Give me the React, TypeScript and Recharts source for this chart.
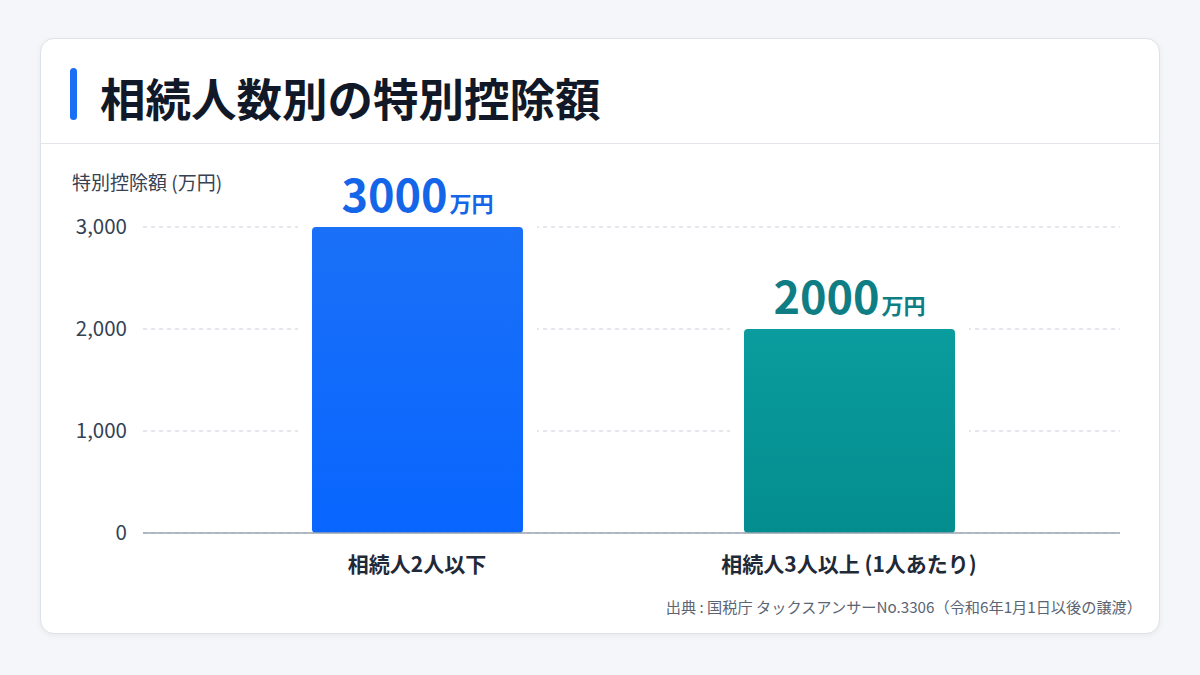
import React from 'react'
import { BarChart, Bar, XAxis, YAxis, CartesianGrid, LabelList } from 'recharts'

const CATEGORIES = ['相続人2人以下', '相続人3人以上 (1人あたり)']
const VALUES = [3000, 2000]
const Y_TICKS = [0, 1000, 2000, 3000]
const TITLE = '相続人数別の特別控除額'
const Y_LABEL = '特別控除額 (万円)'
const UNIT = '万円'
const SOURCE = '出典 : 国税庁 タックスアンサーNo.3306（令和6年1月1日以後の譲渡）'

const FONT = '"Noto Sans CJK JP", "Noto Sans", sans-serif'
const GRADIENTS = [
  { id: 'gBlue', top: '#1a70f7', bottom: '#0866ff', label: '#1565e8' },
  { id: 'gTeal', top: '#0a9c9e', bottom: '#048d8e', label: '#0e7e84' },
]
const CARD_BG = '#ffffff'

const data = CATEGORIES.map((name, i) => ({ name, value: VALUES[i] }))

function BarShape(props: any) {
  const { x, y, width, height, index } = props
  const g = GRADIENTS[index % GRADIENTS.length]
  return (
    <g>
      {/* white cutout so the dashed grid stops short of the bar */}
      <rect x={x - 14} y={y - 1} width={width + 28} height={height} fill={CARD_BG} />
      <rect x={x} y={y} width={width} height={height} rx={4} ry={4} fill={`url(#${g.id})`} />
    </g>
  )
}

function ValueLabel(props: any) {
  const { x, y, width, value, index } = props
  const g = GRADIENTS[index % GRADIENTS.length]
  return (
    <text x={x + width / 2} y={y - 15} textAnchor="middle" fill={g.label} fontFamily={FONT} fontWeight={700}>
      <tspan fontSize={45}>{value}</tspan>
      <tspan fontSize={22} dx={2}>{UNIT}</tspan>
    </text>
  )
}

export default function App() {
  return (
    <div style={{ position: 'fixed', left: 0, top: 0, width: 1200, height: 675, background: '#f4f6f9', fontFamily: FONT }}>
      <div
        style={{
          position: 'absolute',
          left: 40,
          top: 38,
          width: 1118,
          height: 594,
          background: CARD_BG,
          border: '1px solid #dde2e8',
          borderRadius: 14,
          boxShadow: '0 2px 6px rgba(15,23,42,0.05)',
        }}
      />
      <div style={{ position: 'absolute', left: 70, top: 68, width: 7, height: 52, borderRadius: 4, background: '#1a6ff5' }} />
      <div
        style={{
          position: 'absolute',
          left: 100,
          top: 66,
          fontSize: 45.5,
          fontWeight: 700,
          lineHeight: '62px',
          color: '#111827',
          whiteSpace: 'nowrap',
        }}
      >
        {TITLE}
      </div>
      <div style={{ position: 'absolute', left: 41, top: 143, width: 1118, height: 1, background: '#e2e6eb' }} />
      <div style={{ position: 'absolute', left: 72, top: 169, fontSize: 19, lineHeight: '26px', color: '#374151', whiteSpace: 'nowrap' }}>
        {Y_LABEL}
      </div>
      <div
        style={{
          position: 'absolute',
          right: 1200 - 1142,
          top: 595,
          fontSize: 15.2,
          lineHeight: '22px',
          color: '#5b6472',
          whiteSpace: 'nowrap',
        }}
      >
        {SOURCE}
      </div>
      <div style={{ position: 'absolute', left: 0, top: 0 }}>
        <BarChart width={1200} height={675} data={data} margin={{ top: 227, right: 80, bottom: 82, left: 0 }}>
          <defs>
            {GRADIENTS.map((g) => (
              <linearGradient key={g.id} id={g.id} x1="0" y1="0" x2="0" y2="1">
                <stop offset="0%" stopColor={g.top} />
                <stop offset="100%" stopColor={g.bottom} />
              </linearGradient>
            ))}
          </defs>
          <CartesianGrid vertical={false} stroke="#c9cfd8" strokeDasharray="4 4" />
          <XAxis
            dataKey="name"
            height={60}
            padding={{ left: 58, right: 55 }}
            axisLine={{ stroke: '#9aa4b2', strokeWidth: 1.5 }}
            tickLine={false}
            tickMargin={18}
            tick={{ fill: '#1f2937', fontSize: 21, fontWeight: 600, fontFamily: FONT }}
            interval={0}
          />
          <YAxis
            width={143}
            domain={[0, 3000]}
            ticks={Y_TICKS}
            axisLine={false}
            tickLine={false}
            tickMargin={10}
            tickFormatter={(v) => Number(v).toLocaleString('en-US')}
            tick={{ fill: '#334155', fontSize: 20.5, fontFamily: FONT }}
          />
          <Bar dataKey="value" barSize={211} shape={<BarShape />} isAnimationActive={false}>
            <LabelList dataKey="value" content={<ValueLabel />} />
          </Bar>
        </BarChart>
      </div>
    </div>
  )
}
